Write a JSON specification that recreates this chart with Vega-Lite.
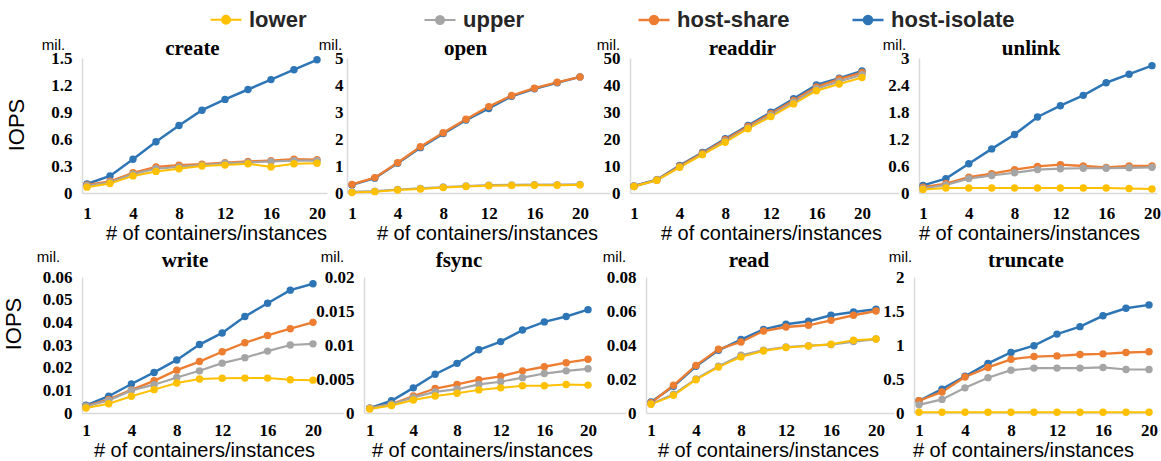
{
  "$schema": "https://vega.github.io/schema/vega-lite/v6.json",
  "background": "white",
  "autosize": {"type": "none"},
  "padding": {"left": 82, "top": 58, "right": 1079, "bottom": 403},
  "datasets": {
    "d": [
      {"op":"create","n":1,"lower":0.065,"upper":0.08,"host-share":0.09,"host-isolate":0.10},
      {"op":"create","n":2,"lower":0.105,"upper":0.12,"host-share":0.13,"host-isolate":0.19},
      {"op":"create","n":4,"lower":0.19,"upper":0.21,"host-share":0.225,"host-isolate":0.375},
      {"op":"create","n":6,"lower":0.24,"upper":0.27,"host-share":0.29,"host-isolate":0.57},
      {"op":"create","n":8,"lower":0.27,"upper":0.29,"host-share":0.31,"host-isolate":0.75},
      {"op":"create","n":10,"lower":0.30,"upper":0.31,"host-share":0.32,"host-isolate":0.92},
      {"op":"create","n":12,"lower":0.31,"upper":0.33,"host-share":0.337,"host-isolate":1.04},
      {"op":"create","n":14,"lower":0.325,"upper":0.34,"host-share":0.35,"host-isolate":1.15},
      {"op":"create","n":16,"lower":0.29,"upper":0.35,"host-share":0.36,"host-isolate":1.26},
      {"op":"create","n":18,"lower":0.325,"upper":0.36,"host-share":0.375,"host-isolate":1.37},
      {"op":"create","n":20,"lower":0.33,"upper":0.36,"host-share":0.37,"host-isolate":1.48},
      {"op":"open","n":1,"lower":0.02,"upper":0.04,"host-share":0.32,"host-isolate":0.30},
      {"op":"open","n":2,"lower":0.05,"upper":0.07,"host-share":0.57,"host-isolate":0.55},
      {"op":"open","n":4,"lower":0.11,"upper":0.13,"host-share":1.12,"host-isolate":1.10},
      {"op":"open","n":6,"lower":0.15,"upper":0.17,"host-share":1.71,"host-isolate":1.68},
      {"op":"open","n":8,"lower":0.20,"upper":0.22,"host-share":2.23,"host-isolate":2.20},
      {"op":"open","n":10,"lower":0.24,"upper":0.26,"host-share":2.73,"host-isolate":2.70},
      {"op":"open","n":12,"lower":0.27,"upper":0.29,"host-share":3.20,"host-isolate":3.13},
      {"op":"open","n":14,"lower":0.28,"upper":0.30,"host-share":3.61,"host-isolate":3.58},
      {"op":"open","n":16,"lower":0.29,"upper":0.31,"host-share":3.88,"host-isolate":3.86},
      {"op":"open","n":18,"lower":0.29,"upper":0.31,"host-share":4.10,"host-isolate":4.08},
      {"op":"open","n":20,"lower":0.30,"upper":0.32,"host-share":4.30,"host-isolate":4.30},
      {"op":"readdir","n":1,"lower":2.4,"upper":2.4,"host-share":2.5,"host-isolate":2.6},
      {"op":"readdir","n":2,"lower":4.7,"upper":4.7,"host-share":4.8,"host-isolate":4.9},
      {"op":"readdir","n":4,"lower":9.5,"upper":9.6,"host-share":9.9,"host-isolate":10.2},
      {"op":"readdir","n":6,"lower":14.2,"upper":14.4,"host-share":14.7,"host-isolate":15.0},
      {"op":"readdir","n":8,"lower":18.8,"upper":19.2,"host-share":19.7,"host-isolate":20.1},
      {"op":"readdir","n":10,"lower":23.8,"upper":24.1,"host-share":24.6,"host-isolate":25.0},
      {"op":"readdir","n":12,"lower":28.3,"upper":28.8,"host-share":29.4,"host-isolate":29.9},
      {"op":"readdir","n":14,"lower":33.0,"upper":33.6,"host-share":34.3,"host-isolate":34.9},
      {"op":"readdir","n":16,"lower":37.9,"upper":38.6,"host-share":39.3,"host-isolate":40.0},
      {"op":"readdir","n":18,"lower":40.4,"upper":41.3,"host-share":42.2,"host-isolate":42.5},
      {"op":"readdir","n":20,"lower":42.8,"upper":43.8,"host-share":44.6,"host-isolate":45.2},
      {"op":"unlink","n":1,"lower":0.08,"upper":0.10,"host-share":0.13,"host-isolate":0.17},
      {"op":"unlink","n":2,"lower":0.11,"upper":0.18,"host-share":0.21,"host-isolate":0.32},
      {"op":"unlink","n":4,"lower":0.11,"upper":0.32,"host-share":0.35,"host-isolate":0.65},
      {"op":"unlink","n":6,"lower":0.11,"upper":0.39,"host-share":0.43,"host-isolate":0.98},
      {"op":"unlink","n":8,"lower":0.11,"upper":0.45,"host-share":0.52,"host-isolate":1.30},
      {"op":"unlink","n":10,"lower":0.11,"upper":0.52,"host-share":0.59,"host-isolate":1.69},
      {"op":"unlink","n":12,"lower":0.11,"upper":0.54,"host-share":0.63,"host-isolate":1.94},
      {"op":"unlink","n":14,"lower":0.11,"upper":0.55,"host-share":0.60,"host-isolate":2.17},
      {"op":"unlink","n":16,"lower":0.11,"upper":0.55,"host-share":0.57,"host-isolate":2.45},
      {"op":"unlink","n":18,"lower":0.10,"upper":0.56,"host-share":0.60,"host-isolate":2.64},
      {"op":"unlink","n":20,"lower":0.09,"upper":0.57,"host-share":0.60,"host-isolate":2.83},
      {"op":"write","n":1,"lower":0.0022,"upper":0.003,"host-share":0.003,"host-isolate":0.0034},
      {"op":"write","n":2,"lower":0.0041,"upper":0.0055,"host-share":0.006,"host-isolate":0.0074},
      {"op":"write","n":4,"lower":0.0074,"upper":0.0099,"host-share":0.0102,"host-isolate":0.0128},
      {"op":"write","n":6,"lower":0.0103,"upper":0.0125,"host-share":0.0142,"host-isolate":0.0179},
      {"op":"write","n":8,"lower":0.0132,"upper":0.0157,"host-share":0.0189,"host-isolate":0.0234},
      {"op":"write","n":10,"lower":0.015,"upper":0.0186,"host-share":0.0227,"host-isolate":0.0302},
      {"op":"write","n":12,"lower":0.0153,"upper":0.022,"host-share":0.027,"host-isolate":0.0353},
      {"op":"write","n":14,"lower":0.0154,"upper":0.0244,"host-share":0.031,"host-isolate":0.0426},
      {"op":"write","n":16,"lower":0.0154,"upper":0.0273,"host-share":0.0342,"host-isolate":0.0484},
      {"op":"write","n":18,"lower":0.0147,"upper":0.030,"host-share":0.0372,"host-isolate":0.0542},
      {"op":"write","n":20,"lower":0.0145,"upper":0.0305,"host-share":0.040,"host-isolate":0.057},
      {"op":"fsync","n":1,"lower":0.0006,"upper":0.0007,"host-share":0.0007,"host-isolate":0.0007},
      {"op":"fsync","n":2,"lower":0.0011,"upper":0.0013,"host-share":0.0013,"host-isolate":0.0018},
      {"op":"fsync","n":4,"lower":0.0019,"upper":0.0023,"host-share":0.0025,"host-isolate":0.0037},
      {"op":"fsync","n":6,"lower":0.0025,"upper":0.0031,"host-share":0.0036,"host-isolate":0.0057},
      {"op":"fsync","n":8,"lower":0.0029,"upper":0.0035,"host-share":0.0042,"host-isolate":0.0073},
      {"op":"fsync","n":10,"lower":0.0034,"upper":0.0042,"host-share":0.0049,"host-isolate":0.0093},
      {"op":"fsync","n":12,"lower":0.0037,"upper":0.0046,"host-share":0.0054,"host-isolate":0.0105},
      {"op":"fsync","n":14,"lower":0.004,"upper":0.0052,"host-share":0.0062,"host-isolate":0.0122},
      {"op":"fsync","n":16,"lower":0.004,"upper":0.0058,"host-share":0.0068,"host-isolate":0.0134},
      {"op":"fsync","n":18,"lower":0.0042,"upper":0.0062,"host-share":0.0074,"host-isolate":0.0142},
      {"op":"fsync","n":20,"lower":0.0041,"upper":0.0065,"host-share":0.0079,"host-isolate":0.0152},
      {"op":"read","n":1,"lower":0.0051,"upper":0.0053,"host-share":0.006,"host-isolate":0.0065},
      {"op":"read","n":2,"lower":0.0104,"upper":0.011,"host-share":0.0163,"host-isolate":0.0157},
      {"op":"read","n":4,"lower":0.0196,"upper":0.020,"host-share":0.028,"host-isolate":0.0275},
      {"op":"read","n":6,"lower":0.027,"upper":0.0275,"host-share":0.0375,"host-isolate":0.0369},
      {"op":"read","n":8,"lower":0.033,"upper":0.034,"host-share":0.0418,"host-isolate":0.0432},
      {"op":"read","n":10,"lower":0.0365,"upper":0.037,"host-share":0.0482,"host-isolate":0.0492},
      {"op":"read","n":12,"lower":0.0385,"upper":0.0388,"host-share":0.0506,"host-isolate":0.0522},
      {"op":"read","n":14,"lower":0.0394,"upper":0.0396,"host-share":0.0516,"host-isolate":0.054},
      {"op":"read","n":16,"lower":0.0404,"upper":0.0402,"host-share":0.0545,"host-isolate":0.0575},
      {"op":"read","n":18,"lower":0.0428,"upper":0.042,"host-share":0.0575,"host-isolate":0.0594},
      {"op":"read","n":20,"lower":0.0435,"upper":0.0435,"host-share":0.060,"host-isolate":0.061},
      {"op":"truncate","n":1,"lower":0.01,"upper":0.12,"host-share":0.18,"host-isolate":0.18},
      {"op":"truncate","n":2,"lower":0.01,"upper":0.20,"host-share":0.31,"host-isolate":0.35},
      {"op":"truncate","n":4,"lower":0.01,"upper":0.37,"host-share":0.53,"host-isolate":0.54},
      {"op":"truncate","n":6,"lower":0.01,"upper":0.52,"host-share":0.67,"host-isolate":0.73},
      {"op":"truncate","n":8,"lower":0.01,"upper":0.63,"host-share":0.79,"host-isolate":0.89},
      {"op":"truncate","n":10,"lower":0.01,"upper":0.66,"host-share":0.83,"host-isolate":0.99},
      {"op":"truncate","n":12,"lower":0.01,"upper":0.66,"host-share":0.84,"host-isolate":1.16},
      {"op":"truncate","n":14,"lower":0.01,"upper":0.66,"host-share":0.86,"host-isolate":1.27},
      {"op":"truncate","n":16,"lower":0.01,"upper":0.67,"host-share":0.87,"host-isolate":1.43},
      {"op":"truncate","n":18,"lower":0.01,"upper":0.64,"host-share":0.89,"host-isolate":1.54},
      {"op":"truncate","n":20,"lower":0.01,"upper":0.64,"host-share":0.90,"host-isolate":1.59}
    ]
  },
  "bounds": "flush",
  "spacing": 219,
  "vconcat": [
    {
      "title": {"text": "IOPS", "orient": "left", "anchor": "middle", "frame": "group", "font": "Liberation Sans", "fontSize": 22, "fontWeight": "normal", "offset": 12, "dx": -67},
      "bounds": "flush",
      "spacing": 20,
      "hconcat": [
        {
          "title": {"text": "create", "dx": -12},
          "width": 245, "height": 135,
          "data": {"name": "d"},
          "transform": [{"filter": "datum.op === 'create'"}, {"fold": ["host-isolate", "host-share", "upper", "lower"], "as": ["series", "v"]}],
          "mark": {"type": "line", "point": {"filled": true, "size": 55}},
          "encoding": {
            "x": {"field": "n", "type": "ordinal", "scale": {"type": "point", "padding": 0.326, "align": 0.333}, "axis": {"values": [1, 4, 8, 12, 16, 20], "title": "# of containers/instances", "titleX": 134}},
            "y": {"field": "v", "type": "quantitative", "scale": {"domain": [0, 1.5], "nice": false}, "axis": {"values": [0, 0.3, 0.6, 0.9, 1.2, 1.5], "format": ".1~f", "title": "mil.", "titleX": -29, "titleY": -14}},
            "color": {"field": "series", "type": "nominal", "scale": {"domain": ["lower", "upper", "host-share", "host-isolate"], "range": ["#FFC000", "#A5A5A5", "#ED7D31", "#2E75B6"]},
              "legend": {"title": null, "orient": "none", "legendX": 127, "legendY": -55, "direction": "horizontal", "columns": 4, "gridAlign": "all", "columnPadding": 46,
                "labelFont": "Liberation Sans", "labelFontSize": 22, "labelFontWeight": "bold", "labelColor": "#262626", "labelOffset": 6,
                "symbolType": "M-1,0H1M-0.26,0A0.26,0.26,0,1,1,0.26,0A0.26,0.26,0,1,1,-0.26,0Z", "symbolSize": 961, "symbolStrokeWidth": 2}},
            "strokeWidth": {"field": "series", "type": "nominal", "scale": {"domain": ["lower", "upper", "host-share", "host-isolate"], "range": [2, 2.5, 2, 3]}, "legend": null}
          }
        },
        {
          "title": {"text": "open", "dx": -13},
          "width": 263, "height": 135,
          "data": {"name": "d"},
          "transform": [{"filter": "datum.op === 'open'"}, {"fold": ["host-isolate", "host-share", "upper", "lower"], "as": ["series", "v"]}],
          "mark": {"type": "line", "point": {"filled": true, "size": 55}},
          "encoding": {
            "x": {"field": "n", "type": "ordinal", "scale": {"type": "point", "padding": 0.768, "align": 0.143}, "axis": {"values": [1, 4, 8, 12, 16, 20], "title": "# of containers/instances", "titleX": 140}},
            "y": {"field": "v", "type": "quantitative", "scale": {"domain": [0, 5], "nice": false}, "axis": {"values": [0, 1, 2, 3, 4, 5], "format": "d", "title": "mil.", "titleX": -17, "titleY": -14, "labelPadding": 4}},
            "color": {"field": "series", "type": "nominal", "scale": {"domain": ["lower", "upper", "host-share", "host-isolate"], "range": ["#FFC000", "#A5A5A5", "#ED7D31", "#2E75B6"]}},
            "strokeWidth": {"field": "series", "type": "nominal", "scale": {"domain": ["lower", "upper", "host-share", "host-isolate"], "range": [2, 2.5, 2, 3]}, "legend": null}
          }
        },
        {
          "title": {"text": "readdir", "dx": -22},
          "width": 269, "height": 135,
          "data": {"name": "d"},
          "transform": [{"filter": "datum.op === 'readdir'"}, {"fold": ["host-isolate", "host-share", "upper", "lower"], "as": ["series", "v"]}],
          "mark": {"type": "line", "point": {"filled": true, "size": 55}},
          "encoding": {
            "x": {"field": "n", "type": "ordinal", "scale": {"type": "point", "padding": 0.899, "align": 0.098}, "axis": {"values": [1, 4, 8, 12, 16, 20], "title": "# of containers/instances", "titleX": 141}},
            "y": {"field": "v", "type": "quantitative", "scale": {"domain": [0, 50], "nice": false}, "axis": {"values": [0, 10, 20, 30, 40, 50], "format": "d", "title": "mil.", "titleX": -22, "titleY": -14}},
            "color": {"field": "series", "type": "nominal", "scale": {"domain": ["lower", "upper", "host-share", "host-isolate"], "range": ["#FFC000", "#A5A5A5", "#ED7D31", "#2E75B6"]}},
            "strokeWidth": {"field": "series", "type": "nominal", "scale": {"domain": ["lower", "upper", "host-share", "host-isolate"], "range": [2, 2.5, 2, 3]}, "legend": null}
          }
        },
        {
          "title": {"text": "unlink", "dx": -7},
          "width": 238, "height": 135,
          "data": {"name": "d"},
          "transform": [{"filter": "datum.op === 'unlink'"}, {"fold": ["host-isolate", "host-share", "upper", "lower"], "as": ["series", "v"]}],
          "mark": {"type": "line", "point": {"filled": true, "size": 55}},
          "encoding": {
            "x": {"field": "n", "type": "ordinal", "scale": {"type": "point", "padding": 0.197, "align": 0.444}, "axis": {"values": [1, 4, 8, 12, 16, 20], "title": "# of containers/instances", "titleX": 110}},
            "y": {"field": "v", "type": "quantitative", "scale": {"domain": [0, 3], "nice": false}, "axis": {"values": [0, 0.6, 1.2, 1.8, 2.4, 3], "format": ".1~f", "title": "mil.", "titleX": -25, "titleY": -14}},
            "color": {"field": "series", "type": "nominal", "scale": {"domain": ["lower", "upper", "host-share", "host-isolate"], "range": ["#FFC000", "#A5A5A5", "#ED7D31", "#2E75B6"]}},
            "strokeWidth": {"field": "series", "type": "nominal", "scale": {"domain": ["lower", "upper", "host-share", "host-isolate"], "range": [2, 2.5, 2, 3]}, "legend": null}
          }
        }
      ]
    },
    {
      "title": {"text": "IOPS", "orient": "left", "anchor": "middle", "frame": "group", "font": "Liberation Sans", "fontSize": 22, "fontWeight": "normal", "offset": 10, "dx": -47},
      "bounds": "flush",
      "spacing": 20,
      "hconcat": [
        {
          "title": {"text": "write", "dx": -28},
          "width": 262, "height": 136,
          "data": {"name": "d"},
          "transform": [{"filter": "datum.op === 'write'"}, {"fold": ["host-isolate", "host-share", "upper", "lower"], "as": ["series", "v"]}],
          "mark": {"type": "line", "point": {"filled": true, "size": 55}},
          "encoding": {
            "x": {"field": "n", "type": "ordinal", "scale": {"type": "point", "padding": 0.771, "align": 0.114}, "axis": {"values": [1, 4, 8, 12, 16, 20], "title": "# of containers/instances", "titleX": 122, "labelPadding": 9}},
            "y": {"field": "v", "type": "quantitative", "scale": {"domain": [0, 0.06], "nice": false}, "axis": {"values": [0, 0.01, 0.02, 0.03, 0.04, 0.05, 0.06], "format": ".2~f", "title": "mil.", "titleX": -34, "titleY": -21}},
            "color": {"field": "series", "type": "nominal", "scale": {"domain": ["lower", "upper", "host-share", "host-isolate"], "range": ["#FFC000", "#A5A5A5", "#ED7D31", "#2E75B6"]}},
            "strokeWidth": {"field": "series", "type": "nominal", "scale": {"domain": ["lower", "upper", "host-share", "host-isolate"], "range": [2, 2.5, 2, 3]}, "legend": null}
          }
        },
        {
          "title": {"text": "fsync", "dx": -36},
          "width": 262, "height": 136,
          "data": {"name": "d"},
          "transform": [{"filter": "datum.op === 'fsync'"}, {"fold": ["host-isolate", "host-share", "upper", "lower"], "as": ["series", "v"]}],
          "mark": {"type": "line", "point": {"filled": true, "size": 55}},
          "encoding": {
            "x": {"field": "n", "type": "ordinal", "scale": {"type": "point", "padding": 1.065, "align": 0.13}, "axis": {"values": [1, 4, 8, 12, 16, 20], "title": "# of containers/instances", "titleX": 118, "labelPadding": 9}},
            "y": {"field": "v", "type": "quantitative", "scale": {"domain": [0, 0.02], "nice": false}, "axis": {"values": [0, 0.005, 0.01, 0.015, 0.02], "format": ".3~f", "title": "mil.", "titleX": -32, "titleY": -21}},
            "color": {"field": "series", "type": "nominal", "scale": {"domain": ["lower", "upper", "host-share", "host-isolate"], "range": ["#FFC000", "#A5A5A5", "#ED7D31", "#2E75B6"]}},
            "strokeWidth": {"field": "series", "type": "nominal", "scale": {"domain": ["lower", "upper", "host-share", "host-isolate"], "range": [2, 2.5, 2, 3]}, "legend": null}
          }
        },
        {
          "title": {"text": "read", "dx": -21},
          "width": 248, "height": 136,
          "data": {"name": "d"},
          "transform": [{"filter": "datum.op === 'read'"}, {"fold": ["host-isolate", "host-share", "upper", "lower"], "as": ["series", "v"]}],
          "mark": {"type": "line", "point": {"filled": true, "size": 55}},
          "encoding": {
            "x": {"field": "n", "type": "ordinal", "scale": {"type": "point", "padding": 0.511, "align": 0.217}, "axis": {"values": [1, 4, 8, 12, 16, 20], "title": "# of containers/instances", "titleX": 122, "labelPadding": 9}},
            "y": {"field": "v", "type": "quantitative", "scale": {"domain": [0, 0.08], "nice": false}, "axis": {"values": [0, 0.02, 0.04, 0.06, 0.08], "format": ".2~f", "title": "mil.", "titleX": -32, "titleY": -21}},
            "color": {"field": "series", "type": "nominal", "scale": {"domain": ["lower", "upper", "host-share", "host-isolate"], "range": ["#FFC000", "#A5A5A5", "#ED7D31", "#2E75B6"]}},
            "strokeWidth": {"field": "series", "type": "nominal", "scale": {"domain": ["lower", "upper", "host-share", "host-isolate"], "range": [2, 2.5, 2, 3]}, "legend": null}
          }
        },
        {
          "title": {"text": "truncate", "dx": -7},
          "width": 238, "height": 136,
          "data": {"name": "d"},
          "transform": [{"filter": "datum.op === 'truncate'"}, {"fold": ["host-isolate", "host-share", "upper", "lower"], "as": ["series", "v"]}],
          "mark": {"type": "line", "point": {"filled": true, "size": 55}},
          "encoding": {
            "x": {"field": "n", "type": "ordinal", "scale": {"type": "point", "padding": 0.174, "align": 0.625}, "axis": {"values": [1, 4, 8, 12, 16, 20], "title": "# of containers/instances", "titleX": 109, "labelPadding": 9}},
            "y": {"field": "v", "type": "quantitative", "scale": {"domain": [0, 2], "nice": false}, "axis": {"values": [0, 0.5, 1, 1.5, 2], "format": ".1~f", "title": "mil.", "titleX": -14, "titleY": -21}},
            "color": {"field": "series", "type": "nominal", "scale": {"domain": ["lower", "upper", "host-share", "host-isolate"], "range": ["#FFC000", "#A5A5A5", "#ED7D31", "#2E75B6"]}},
            "strokeWidth": {"field": "series", "type": "nominal", "scale": {"domain": ["lower", "upper", "host-share", "host-isolate"], "range": [2, 2.5, 2, 3]}, "legend": null}
          }
        }
      ]
    }
  ],
  "resolve": {"scale": {"color": "shared", "strokeWidth": "shared"}, "legend": {"color": "shared"}},
  "config": {
    "view": {"stroke": null},
    "axis": {"domainColor": "#D9D9D9", "domainWidth": 1.5, "ticks": false, "grid": false, "labelFont": "Liberation Serif", "labelFontWeight": "bold", "labelFontSize": 17, "labelColor": "#000000", "titleColor": "#000000", "labelOverlap": false},
    "axisX": {"labelAngle": 0, "labelPadding": 12, "labelFlush": false, "titleFont": "Liberation Sans", "titleFontWeight": "normal", "titleFontSize": 20, "titlePadding": 2, "titleAlign": "center"},
    "axisY": {"titleFont": "Liberation Sans", "titleFontWeight": "normal", "titleFontSize": 15, "titleAngle": 0, "titleAlign": "center", "titleBaseline": "middle", "labelPadding": 10},
    "title": {"font": "Liberation Serif", "fontSize": 21, "fontWeight": "bold", "color": "#000000", "frame": "group", "anchor": "middle", "offset": -22}
  }
}
